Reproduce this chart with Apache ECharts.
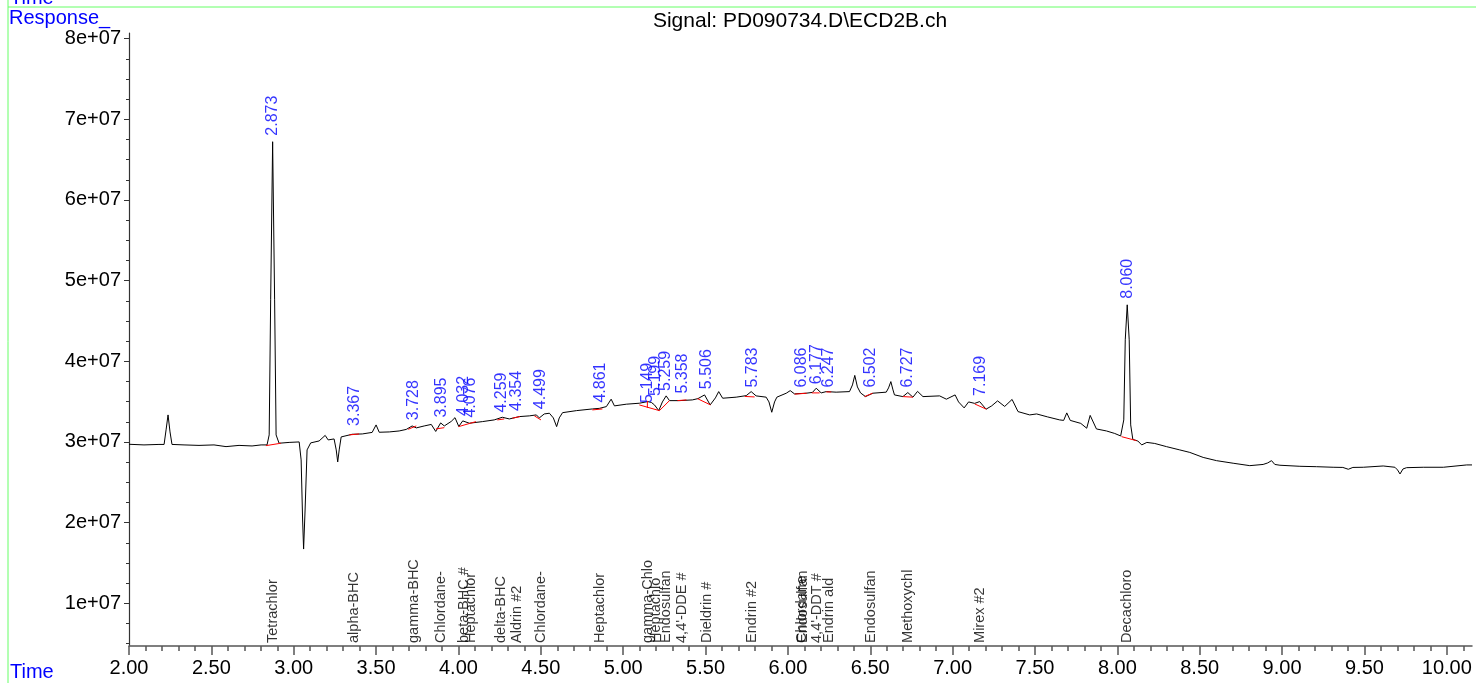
<!DOCTYPE html>
<html>
<head>
<meta charset="utf-8">
<script src="https://cdn.jsdelivr.net/npm/echarts@6/dist/echarts.min.js"></script>
<style>
html,body{margin:0;padding:0;background:#fff;}
#chart{width:1476px;height:683px;}
</style>
</head>
<body>
<div id="chart"></div>
<script>
// ---- data (time in min, response in units of 1e7 counts) ----
const titleText = 'Signal: PD090734.D\\ECD2B.ch';
const tracePoints = [
[2.000,2.971],[2.091,2.963],[2.182,2.969],[2.213,2.969],[2.225,3.149],[2.237,3.335],[2.249,3.124],[2.261,2.969],
[2.334,2.963],[2.425,2.957],[2.516,2.963],[2.589,2.942],[2.668,2.957],[2.747,2.950],[2.802,2.963],[2.838,2.963],
[2.851,3.087],[2.860,4.762],[2.872,6.722],[2.884,4.762],[2.893,3.087],[2.911,2.984],[2.972,2.994],[3.033,3.000],
[3.045,2.777],[3.054,2.032],[3.060,1.672],[3.069,2.156],[3.081,2.901],[3.103,2.988],[3.154,3.012],[3.191,3.081],
[3.209,3.025],[3.245,3.037],[3.258,2.901],[3.267,2.752],[3.276,2.901],[3.288,3.062],[3.355,3.095],[3.416,3.099],
[3.476,3.118],[3.500,3.211],[3.519,3.120],[3.580,3.124],[3.640,3.136],[3.683,3.155],[3.719,3.198],[3.744,3.174],
[3.792,3.198],[3.835,3.217],[3.862,3.130],[3.892,3.236],[3.914,3.198],[3.956,3.254],[3.979,3.301],[4.002,3.192],
[4.026,3.261],[4.066,3.232],[4.145,3.252],[4.217,3.273],[4.266,3.306],[4.309,3.285],[4.369,3.314],[4.430,3.323],
[4.473,3.335],[4.491,3.298],[4.521,3.347],[4.552,3.356],[4.576,3.298],[4.596,3.190],[4.612,3.298],[4.632,3.363],
[4.716,3.388],[4.813,3.409],[4.855,3.416],[4.898,3.438],[4.927,3.530],[4.947,3.447],[5.019,3.468],[5.098,3.480],
[5.149,3.500],[5.171,3.490],[5.190,3.459],[5.216,3.388],[5.238,3.496],[5.261,3.571],[5.281,3.512],[5.341,3.512],
[5.420,3.521],[5.454,3.537],[5.494,3.583],[5.528,3.459],[5.560,3.546],[5.580,3.624],[5.604,3.542],[5.686,3.555],
[5.747,3.574],[5.777,3.624],[5.807,3.571],[5.868,3.555],[5.885,3.496],[5.902,3.368],[5.919,3.496],[5.933,3.555],
[5.990,3.604],[6.014,3.636],[6.040,3.596],[6.111,3.604],[6.149,3.614],[6.172,3.666],[6.202,3.608],[6.233,3.624],
[6.293,3.617],[6.374,3.624],[6.392,3.707],[6.406,3.825],[6.422,3.682],[6.441,3.608],[6.471,3.562],[6.516,3.604],
[6.597,3.617],[6.611,3.670],[6.625,3.748],[6.638,3.645],[6.647,3.583],[6.698,3.562],[6.728,3.612],[6.759,3.555],
[6.787,3.627],[6.820,3.562],[6.921,3.571],[6.962,3.530],[7.015,3.583],[7.036,3.496],[7.070,3.422],[7.097,3.496],
[7.134,3.478],[7.164,3.500],[7.203,3.406],[7.237,3.447],[7.273,3.509],[7.316,3.440],[7.361,3.527],[7.397,3.376],
[7.468,3.335],[7.510,3.347],[7.577,3.310],[7.650,3.273],[7.674,3.267],[7.693,3.360],[7.714,3.267],[7.778,3.230],
[7.814,3.170],[7.835,3.329],[7.873,3.161],[7.934,3.136],[7.984,3.105],[8.020,3.074],[8.039,3.273],[8.048,4.266],
[8.060,4.700],[8.072,4.266],[8.081,3.211],[8.094,3.031],[8.124,3.012],[8.148,2.963],[8.179,2.994],[8.227,2.981],
[8.298,2.942],[8.379,2.901],[8.440,2.870],[8.521,2.808],[8.602,2.768],[8.703,2.736],[8.804,2.706],[8.885,2.721],
[8.913,2.740],[8.936,2.768],[8.956,2.721],[8.987,2.711],[9.108,2.698],[9.210,2.693],[9.310,2.686],[9.369,2.684],
[9.402,2.661],[9.430,2.684],[9.493,2.686],[9.614,2.702],[9.685,2.686],[9.701,2.653],[9.716,2.603],[9.734,2.665],
[9.756,2.681],[9.857,2.686],[9.979,2.686],[10.121,2.715],[10.153,2.715]
];
// retention times of integrated peaks and the response where their label starts
const peakRT = [2.873,3.367,3.728,3.895,4.032,4.076,4.259,4.354,4.499,4.861,5.149,5.199,5.259,5.358,5.506,5.783,6.086,6.177,6.247,6.502,6.727,7.169,8.060];
const peakLabelResp = [6.722,3.124,3.195,3.227,3.248,3.227,3.289,3.310,3.331,3.413,3.409,3.496,3.558,3.525,3.579,3.599,3.599,3.641,3.599,3.599,3.599,3.496,4.700];
// compound names (as truncated by the data system) and their retention times
const compoundRT = [2.873,3.367,3.728,3.895,4.032,4.076,4.259,4.354,4.499,4.861,5.149,5.199,5.259,5.358,5.506,5.783,6.086,6.092,6.177,6.247,6.502,6.727,7.169,8.060];
const compoundNames = ['Tetrachlor','alpha-BHC','gamma-BHC','Chlordane-','beta-BHC #','Heptachlor','delta-BHC','Aldrin #2','Chlordane-','Heptachlor','gamma-Chlo','Heptachlo','Endosulfan',"4,4'-DDE #",'Dieldrin #','Endrin #2','Chlordane','Endosulfan',"4,4'-DDT #",'Endrin ald','Endosulfan','Methoxychl','Mirex #2','Decachloro'];
// integration baselines (red) for the peaks
const baselines = [
[[2.831,2.954],[2.922,2.984]],
[[3.337,3.087],[3.397,3.099]],
[[3.695,3.157],[3.744,3.198]],
[[3.863,3.161],[3.914,3.177]],
[[4.001,3.190],[4.106,3.252]],
[[4.236,3.273],[4.278,3.285]],
[[4.327,3.294],[4.374,3.314]],
[[4.461,3.323],[4.501,3.273]],
[[4.813,3.397],[4.874,3.409]],
[[5.098,3.459],[5.220,3.388],[5.281,3.512]],
[[5.147,3.509],[5.147,3.422]],
[[5.329,3.512],[5.384,3.521]],
[[5.451,3.537],[5.530,3.459]],
[[5.738,3.564],[5.798,3.558]],
[[6.041,3.592],[6.114,3.604]],
[[6.145,3.608],[6.193,3.608]],
[[6.233,3.620],[6.263,3.620]],
[[6.465,3.562],[6.514,3.604]],
[[6.698,3.562],[6.759,3.555]],
[[7.134,3.471],[7.205,3.406]],
[[8.025,3.066],[8.116,3.016]]
];
const xMin = 2.0, xMax = 10.153;
const yMin = 4.7e6, yMax = 8.07e7;
const xMajorTicks = [2.0,2.5,3.0,3.5,4.0,4.5,5.0,5.5,6.0,6.5,7.0,7.5,8.0,8.5,9.0,9.5,10.0];
const yMajorTicks = [1e7,2e7,3e7,4e7,5e7,6e7,7e7,8e7];
const UNIT = 1e7;

// ---- build ----
const xMinorTicks = [];
for (let i = 0; i <= 81; i++) xMinorTicks.push(+(2 + i * 0.1).toFixed(1));
const yMinorTicks = [];
for (let i = 2; i <= 32; i++) yMinorTicks.push(i * 2.5e6);

const traceData = tracePoints.map(p => [p[0], p[1] * UNIT]);
const peakData = peakRT.map((t, i) => ({ name: t.toFixed(3), value: [t, peakLabelResp[i] * UNIT] }));
const compData = compoundRT.map((t, i) => ({ name: compoundNames[i], value: [t, yMin] }));
const baseData = baselines.map(seg => ({ coords: seg.map(p => [p[0], p[1] * UNIT]) }));

function expFmt(v) {
  const e = Math.floor(Math.log10(v) + 1e-9);
  const m = Math.round(v / Math.pow(10, e));
  return m + 'e+' + String(e).padStart(2, '0');
}

const FONT = 'Liberation Sans, Arial, sans-serif';
const chart = echarts.init(document.getElementById('chart'));
chart.setOption({
  animation: false,
  backgroundColor: '#ffffff',
  grid: { left: 129, right: 4, top: 33, bottom: 37, containLabel: false, outerBoundsMode: 'none' },
  graphic: [
    { type: 'line', shape: { x1: 8, y1: 7, x2: 1476, y2: 7 }, style: { stroke: '#66ff66', lineWidth: 1 }, silent: true },
    { type: 'line', shape: { x1: 8, y1: 0, x2: 8, y2: 683 }, style: { stroke: '#66ff66', lineWidth: 1 }, silent: true },
    { type: 'text', left: 10, top: -12, style: { text: 'Time', fill: '#0000ff', font: '20px ' + FONT }, silent: true },
    { type: 'text', left: 9, top: 8, style: { text: 'Response_', fill: '#0000ff', font: '20px ' + FONT }, silent: true },
    { type: 'text', left: 10, top: 662, style: { text: 'Time', fill: '#0000ff', font: '20px ' + FONT }, silent: true },
    { type: 'text', x: 800, y: 21, style: { text: titleText, fill: '#000', font: '21px ' + FONT, align: 'center', verticalAlign: 'middle' }, silent: true }
  ],
  xAxis: [
    {
      type: 'value', min: xMin, max: xMax, position: 'bottom',
      axisLine: { show: true, onZero: false, lineStyle: { color: '#555', width: 1.5 } },
      axisTick: { show: true, customValues: xMajorTicks, length: 9, lineStyle: { color: '#555', width: 1.5 } },
      axisLabel: { show: true, customValues: xMajorTicks, formatter: v => v.toFixed(2), margin: 12, color: '#000', fontSize: 20, fontFamily: FONT },
      splitLine: { show: false }
    },
    {
      type: 'value', min: xMin, max: xMax, position: 'bottom',
      axisLine: { show: false, onZero: false },
      axisTick: { show: true, customValues: xMinorTicks, length: 5, lineStyle: { color: '#555', width: 1.5 } },
      axisLabel: { show: false },
      splitLine: { show: false }
    }
  ],
  yAxis: [
    {
      type: 'value', min: yMin, max: yMax, position: 'left',
      axisLine: { show: true, onZero: false, lineStyle: { color: '#333', width: 1.2 } },
      axisTick: { show: true, customValues: yMajorTicks, length: 5, lineStyle: { color: '#333' } },
      axisLabel: { show: true, customValues: yMajorTicks, formatter: expFmt, margin: 8, color: '#000', fontSize: 20, fontFamily: FONT },
      splitLine: { show: false }
    },
    {
      type: 'value', min: yMin, max: yMax, position: 'left',
      axisLine: { show: false, onZero: false },
      axisTick: { show: true, customValues: yMinorTicks, length: 3, lineStyle: { color: '#333' } },
      axisLabel: { show: false },
      splitLine: { show: false }
    }
  ],
  series: [
    {
      type: 'line', name: 'signal', data: traceData, xAxisIndex: 0, yAxisIndex: 0,
      showSymbol: false, symbol: 'none', smooth: false,
      lineStyle: { color: '#000', width: 1 }, z: 2, silent: true
    },
    {
      type: 'lines', coordinateSystem: 'cartesian2d', polyline: true, data: baseData,
      xAxisIndex: 0, yAxisIndex: 0,
      lineStyle: { color: '#ff0000', width: 1, opacity: 1 }, z: 3, silent: true
    },
    {
      type: 'scatter', name: 'rt', data: peakData, xAxisIndex: 0, yAxisIndex: 0,
      symbolSize: 0.1, itemStyle: { color: 'rgba(0,0,0,0)' }, z: 4, silent: true,
      label: { show: true, formatter: '{b}', position: 'top', distance: 6, rotate: 90, align: 'left', verticalAlign: 'middle', color: '#0000ff', fontSize: 16, fontFamily: FONT }
    },
    {
      type: 'scatter', name: 'compounds', data: compData, xAxisIndex: 0, yAxisIndex: 0,
      symbolSize: 0.1, itemStyle: { color: 'rgba(0,0,0,0)' }, z: 4, silent: true,
      label: { show: true, formatter: '{b}', position: 'top', distance: 3, rotate: 90, align: 'left', verticalAlign: 'middle', color: '#000', fontSize: 14.5, fontFamily: FONT }
    }
  ]
});
</script>
</body>
</html>
